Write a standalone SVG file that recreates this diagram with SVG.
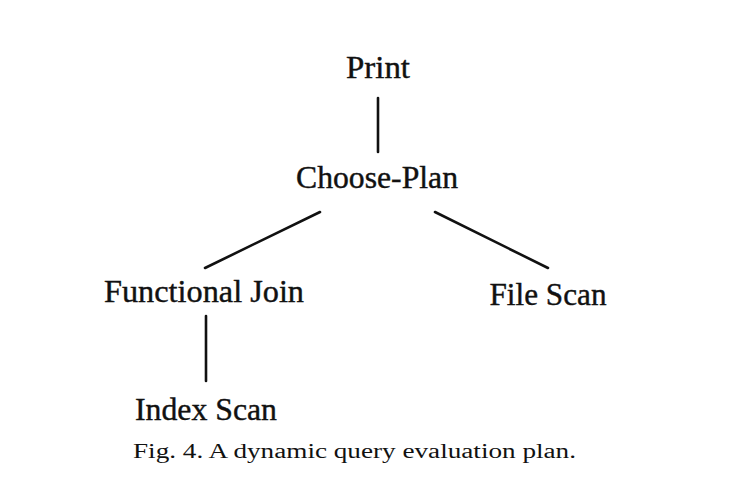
<svg xmlns="http://www.w3.org/2000/svg" width="734" height="490" viewBox="0 0 734 490">
<style>
.n{font-family:"Liberation Serif","Times New Roman",serif;font-size:31px;fill:#111;stroke:#111;stroke-width:0.4;text-anchor:middle}
.c{font-family:"Liberation Serif","Times New Roman",serif;font-size:20px;fill:#111}
.e{stroke:#111;stroke-width:2.6;fill:none;stroke-linecap:round}
</style>
<rect width="734" height="490" fill="#fff"/>
<g id="edges">
<line class="e" x1="378" y1="98" x2="378" y2="152"/>
<line class="e" x1="320" y1="212" x2="205" y2="268"/>
<line class="e" x1="435" y1="212" x2="548" y2="268"/>
<line class="e" x1="206" y1="316" x2="206" y2="381"/>
</g>
<g id="print"><text class="n" x="378" y="78" textLength="64" lengthAdjust="spacingAndGlyphs">Print</text></g>
<g id="choose-plan"><text class="n" x="377" y="188" textLength="162" lengthAdjust="spacingAndGlyphs">Choose-Plan</text></g>
<g id="functional-join"><text class="n" x="204" y="302" textLength="200" lengthAdjust="spacingAndGlyphs">Functional Join</text></g>
<g id="file-scan"><text class="n" x="548" y="305" textLength="117" lengthAdjust="spacingAndGlyphs">File Scan</text></g>
<g id="index-scan"><text class="n" x="206" y="420" textLength="142" lengthAdjust="spacingAndGlyphs">Index Scan</text></g>
<text class="c" x="133" y="458" textLength="443" lengthAdjust="spacingAndGlyphs">Fig. 4.  A dynamic query evaluation plan.</text>
</svg>
